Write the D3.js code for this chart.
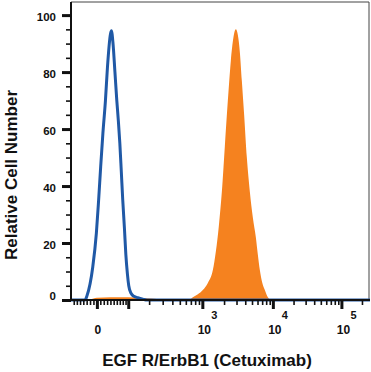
<!DOCTYPE html>
<html>
<head>
<meta charset="utf-8">
<title>EGF R / ErbB1 flow histogram</title>
<script src="https://d3js.org/d3.v7.min.js"></script>
<style>
    body { margin: 0; background: #fff; }
    text { font-family: "Liberation Sans", Arial, sans-serif; font-weight: bold; fill: #111; }
</style>
</head>
<body>
<div id="chart"></div>
<script>
    // isotype control, blue outline: fluorescence intensity and % of max
    const isoX = [-79, -35, -29, -12, -1.5, 5, 11, 17.5, 25, 31, 40, 43, 48, 54, 60, 65, 70, 75, 80, 86, 91, 97, 102, 110, 123, 140, 165, 187, 262144];
    const isoY = [0, 0, 1.5, 11.6, 23.5, 35, 46.7, 58.5, 70, 81.7, 93.3, 94.5, 90, 80, 70, 63, 55, 45, 35, 25, 16, 9, 5, 2.5, 1.3, 0.8, 0.3, 0, 0];

    // cetuximab stained cells, orange fill
    const stainX = [-79, -20, 0, 40, 100, 150, 300, 680, 745, 870, 1016, 1190, 1395, 1535, 1690, 1862, 2051, 2261, 2493, 2705, 2935, 3134, 3347, 3573, 3854, 4213, 4653, 5137, 5675, 6063, 6480, 7041, 7654, 8457, 9666, 262144];
    const stainY = [0, 0.3, 0.8, 1, 1, 0.8, 0.3, 0.3, 1, 2, 3.5, 6, 10.5, 17, 26, 38, 54, 70, 84, 92, 95, 93, 87, 77, 65, 50, 38, 29, 22, 16, 10.5, 6, 3.5, 1, 0, 0];

    const yTicks = [0, 20, 40, 60, 80, 100];
    const xMajor = [0, 100, 1000, 10000, 100000];
    const xLabelVals = [0, 1000, 10000, 100000];
    const xLabelExp = ["", "3", "4", "5"];
    const xMin = -79, xMax = 262144, yMax = 104.6;

    const width = 371, height = 372;
    const margin = { top: 2, right: 1, bottom: 72, left: 71 };

    // logicle (biexponential) display transform
    const T = 262144, M = 4.5, W = 0.5;
    const w = W * Math.LN10, m = M * Math.LN10;
    let lo = 1, hi = 20;
    for (let i = 0; i < 80; i++) {
        const mid = (lo + hi) / 2;
        if (2 * mid * Math.log(mid) / (mid + 1) < w) lo = mid; else hi = mid;
    }
    const p = (lo + hi) / 2;
    const k = T * Math.exp(-(m - w));
    const biex = u => k * (Math.exp(u) - p * p * Math.exp(-u / p) + p * p - 1);
    function logicle(v) {
        let a = -10, b = 15;
        for (let i = 0; i < 80; i++) {
            const c = (a + b) / 2;
            if (biex(c) < v) a = c; else b = c;
        }
        return (a + b) / 2 / Math.LN10;
    }

    const x = d3.scaleLinear()
        .domain([logicle(xMin), logicle(xMax)])
        .range([margin.left, width - margin.right]);
    const y = d3.scaleLinear()
        .domain([0, yMax])
        .range([height - margin.bottom, margin.top]);
    const X = v => x(logicle(v));

    const svg = d3.select("#chart").append("svg")
        .attr("width", width)
        .attr("height", height);

    svg.append("defs").append("clipPath").attr("id", "plot")
        .append("rect")
        .attr("x", margin.left).attr("y", margin.top - 1)
        .attr("width", width - margin.left - margin.right)
        .attr("height", height - margin.top - margin.bottom + 3);

    // frame top and right
    svg.append("path")
        .attr("d", `M${margin.left},${margin.top}H${width - margin.right - 1}V${y(0)}`)
        .attr("fill", "none")
        .attr("stroke", "#444")
        .attr("stroke-width", 1);

    const stain = stainX.map((v, i) => [v, stainY[i]]);
    const iso = isoX.map((v, i) => [v, isoY[i]]);

    const plot = svg.append("g").attr("clip-path", "url(#plot)");

    plot.append("path")
        .datum(stain)
        .attr("fill", "#f5821f")
        .attr("d", d3.area()
            .x(d => X(d[0]))
            .y0(y(0))
            .y1(d => y(d[1]))
            .curve(d3.curveMonotoneX));

    // x axis: -70..-10, 10..90, 200..900, 2000..9000, 20000..90000, 200000
    const xMinor = [];
    for (let v = -70; v < 0; v += 10) xMinor.push(v);
    for (let d = 10; d <= 10000; d *= 10)
        for (let j = (d === 10 ? 1 : 2); j <= 9; j++) xMinor.push(j * d);
    xMinor.push(200000);

    const xAxisG = svg.append("g").attr("transform", `translate(0,${y(0)})`);
    xAxisG.append("line")
        .attr("x1", margin.left).attr("x2", width - margin.right)
        .attr("stroke", "#111").attr("stroke-width", 2);
    xAxisG.append("g")
        .call(d3.axisBottom(x).tickValues(xMinor.map(logicle)).tickSize(5).tickFormat(""))
        .call(g => g.select(".domain").remove())
        .call(g => g.selectAll(".tick line").attr("stroke", "#111").attr("stroke-width", 1.6));
    xAxisG.append("g")
        .call(d3.axisBottom(x).tickValues(xMajor.map(logicle)).tickSize(9).tickFormat(""))
        .call(g => g.select(".domain").remove())
        .call(g => g.selectAll(".tick line").attr("stroke", "#111").attr("stroke-width", 3));

    svg.append("g").selectAll("text")
        .data(xLabelVals)
        .join("text")
        .attr("x", (d, i) => X(d) + (i ? 2 : 1))
        .attr("y", 334)
        .attr("text-anchor", "middle")
        .style("font-size", "12px")
        .text((d, i) => i ? "10" : "0");
    svg.append("g").selectAll("text")
        .data(xLabelVals.slice(1))
        .join("text")
        .attr("x", d => X(d) + 9)
        .attr("y", 319)
        .style("font-size", "11px")
        .text((d, i) => xLabelExp[i + 1]);

    // isotype line on top of the axis
    plot.append("path")
        .datum(iso)
        .attr("fill", "none")
        .attr("stroke", "#2059a6")
        .attr("stroke-width", 3)
        .attr("stroke-linejoin", "round")
        .attr("d", d3.line()
            .x(d => X(d[0]))
            .y(d => y(d[1]))
            .curve(d3.curveMonotoneX));

    // y axis
    const yAxisG = svg.append("g").attr("transform", `translate(${margin.left},0)`);
    yAxisG.append("g")
        .call(d3.axisLeft(y).tickValues(d3.range(5, 101, 5).filter(v => v % 20)).tickSize(5).tickFormat(""))
        .call(g => g.select(".domain").remove())
        .call(g => g.selectAll(".tick line").attr("stroke", "#111").attr("stroke-width", 1.6));
    yAxisG.append("g")
        .call(d3.axisLeft(y).tickValues(yTicks).tickSize(9).tickFormat(""))
        .call(g => g.select(".domain").remove())
        .call(g => g.selectAll(".tick line").attr("stroke", "#111").attr("stroke-width", 3));
    yAxisG.append("line")
        .attr("y1", margin.top).attr("y2", y(0) + 1)
        .attr("stroke", "#111").attr("stroke-width", 2);

    svg.append("g").selectAll("text")
        .data(yTicks)
        .join("text")
        .attr("x", 56)
        .attr("y", d => y(d) + (d ? 2 : -4))
        .attr("dy", "0.35em")
        .attr("text-anchor", "end")
        .style("font-size", "11.5px")
        .text(d => d);

    // axis titles
    svg.append("text")
        .attr("x", 207)
        .attr("y", 366)
        .attr("text-anchor", "middle")
        .style("font-size", "17px")
        .text("EGF R/ErbB1 (Cetuximab)");

    svg.append("text")
        .attr("transform", `translate(17,175) rotate(-90)`)
        .attr("text-anchor", "middle")
        .style("font-size", "17px")
        .text("Relative Cell Number");
</script>
</body>
</html>
